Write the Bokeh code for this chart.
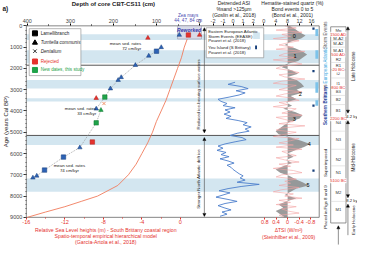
import math
from bokeh.plotting import figure
from bokeh.models import Range1d, LinearAxis, FixedTicker, Label, Arrow, NormalHead
from bokeh.embed import file_html
from bokeh.resources import INLINE

# ------------------------------------------------------------------ data
age_ticks = [0, 1000, 2000, 3000, 4000, 5000, 6000, 7000, 8000, 9000]
age_minor = list(range(0, 9001, 200))
depth_ticks = [400, 300, 200, 100, 0]
depth_minor = [350, 250, 150, 50]
asi_ticks = [-2, -1, 0, 1, 2]
hem_ticks = [0, 4, 8, 12, 16]
sl_ticks = [-16, -12, -8, -4, 0]
sl_minor = [-14, -10, -6, -2]
tsi_ticks = [0.8, 0.4, 0, -0.4, -0.8]
tsi_tick_labels = ["0.8", "0.4", "0", "-0.4", "-0.8"]

storm_band_start = [400, 1150, 2550, 3400, 5150, 7180]
storm_band_end = [660, 1760, 2950, 3550, 5600, 7800]
divider_ages = [1850, 5150]

# dated samples of core CBT-CS11 (depth cm, age cal BP)
turritella_depth = [89, 118, 149, 182, 189, 207, 240, 278, 378, 387]
turritella_age = [1010, 1410, 1850, 2420, 2550, 2950, 3900, 5720, 7050, 7140]
lamelli_depth = [100, 316, 360]
lamelli_age = [1190, 6170, 6780]
new_sq_depth = [220, 240]
new_sq_age = [3350, 4560]
new_tri_depth = [229]
new_tri_age = [3960]
rejected_tri_depth = [120, 240]
rejected_tri_age = [570, 3400]
rejected_sq_depth = [249]
rejected_sq_age = [5460]
dentalium_depth = [222]
dentalium_age = [3650]
reworked_tri_depth = [47]
reworked_tri_age = [430]
reworked_rsq_depth = [26]
reworked_rsq_age = [430]
reworked_rtri_depth = [0]
reworked_rtri_age = [430]

# relative sea level (m)
sl_age = [9000, 8750, 8500, 8250, 8000, 7500, 7000, 6500, 6000, 5500, 5000, 4500,
          4000, 3500, 3000, 2500, 2000, 1500, 1000, 500, 200]
sl_val = [-15.9, -14.0, -12.0, -10.3, -8.6, -6.5, -5.4, -4.6, -4.0, -3.4, -2.9, -2.5,
          -2.0, -1.5, -1.1, -0.7, -0.3, 0.1, 0.4, 0.8, 1.2]

# detrended ASI
asi_age = [2650, 2750, 2850, 2950, 3050, 3150, 3250, 3350, 3450, 3550,
           3650, 3750, 3850, 3950, 4050, 4150, 4250, 4350, 4450, 4550,
           4650, 4750, 4850, 4950, 5050, 5150, 5250, 5350, 5450, 5550,
           5650, 5750, 5850, 5950, 6050, 6150, 6250, 6350, 6450, 6550,
           6650, 6750, 6850, 6950, 7050, 7150, 7250, 7350, 7450, 7550,
           7650, 7750, 7850, 7950, 8050, 8150, 8250, 8350, 8450, 8550,
           8650, 8750, 8850, 8950]
asi_val = [0.2, -0.5, 0.8, 1.5, 0.3, 1.2, 0.6, -0.4, -1.5, -1.2,
           -0.6, -1.0, 0.2, -0.8, -0.3, -0.9, -0.2, -0.7, 0.5, 1.4,
           1.0, 1.8, 1.2, 1.6, 0.4, -0.3, 0.9, 1.3, 0.2, -0.8,
           -1.5, -1.0, -1.6, -0.7, -1.2, -0.4, -1.3, -0.5, 0.1, -0.6,
           -0.2, 0.0, 0.3, 0.6, 1.0, 0.7, 1.2, 0.4, 2.6, 0.8,
           -0.5, -1.4, -0.3, -1.0, -1.7, -0.6, 0.4, -0.8, -1.5, -0.9,
           -0.2, -1.1, -0.6, -1.3]

# hematite-stained quartz (%)
hem_age = [0, 150, 300, 450, 600, 750, 900, 1050, 1200, 1350,
           1500, 1650, 1800, 1950, 2100, 2250, 2400, 2550, 2700, 2850,
           3000, 3150, 3300, 3450, 3600, 3750, 3900, 4050, 4200, 4350,
           4500, 4650, 4800, 4950, 5100, 5250, 5400, 5550, 5700, 5850,
           6000, 6150, 6300, 6450, 6600, 6750, 6900, 7050, 7200, 7350,
           7500, 7650, 7800, 7950, 8100, 8250, 8400, 8550, 8700, 8850, 9000]
hem_pct = [8.5, 10.5, 12.0, 14.0, 12.5, 9.0, 7.0, 10.5, 13.0, 14.5,
           13.0, 11.5, 7.5, 6.0, 9.5, 11.5, 8.0, 11.0, 12.5, 13.5,
           11.0, 13.0, 9.0, 11.0, 7.5, 9.5, 6.5, 10.5, 13.0, 12.0,
           9.0, 7.0, 5.5, 4.0, 5.0, 9.0, 12.5, 15.5, 13.5, 10.5,
           8.0, 10.0, 7.5, 9.5, 6.5, 4.0, 5.5, 8.5, 10.5, 13.0,
           15.0, 11.0, 9.0, 7.0, 11.0, 7.5, 5.0, 6.5, 4.0, 5.5, 7.0]
hem_mean = 8.0

# delta TSI (W/m2)
tsi_age = [0, 100, 200, 300, 400, 500, 600, 700, 800, 900,
           1000, 1100, 1200, 1300, 1400, 1500, 1600, 1700, 1800, 1900,
           2000, 2100, 2200, 2300, 2400, 2500, 2600, 2700, 2800, 2900,
           3000, 3100, 3200, 3300, 3400, 3500, 3600, 3700, 3800, 3900,
           4000, 4100, 4200, 4300, 4400, 4500, 4600, 4700, 4800, 4900,
           5000, 5100, 5200, 5300, 5400, 5500, 5600, 5700, 5800, 5900,
           6000, 6100, 6200, 6300, 6400, 6500, 6600, 6700, 6800, 6900,
           7000, 7100, 7200, 7300, 7400, 7500, 7600, 7700, 7800, 7900,
           8000, 8100, 8200, 8300, 8400, 8500, 8600, 8700, 8800, 8900, 9000]
tsi_val = [0.1, -0.3, 0.4, -0.5, 0.2, -0.1, 0.5, -0.4, 0.0, 0.3,
           -0.2, 0.4, -0.6, 0.1, 0.3, -0.3, 0.5, -0.2, -0.5, 0.2,
           0.4, -0.1, -0.4, 0.3, 0.1, -0.6, 0.2, 0.5, -0.3, 0.0,
           0.3, -0.5, 0.1, 0.4, -0.2, -0.4, 0.3, 0.0, 0.5, -0.3,
           -0.1, 0.2, -0.5, 0.4, 0.1, -0.2, 0.3, -0.6, 0.2, 0.4,
           -0.3, 0.1, 0.5, -0.4, -0.1, 0.3, -0.2, 0.4, -0.5, 0.2,
           0.0, -0.3, 0.4, 0.1, -0.4, 0.3, -0.1, 0.5, -0.2, -0.5,
           0.2, 0.4, -0.3, 0.1, -0.1, 0.3, -0.4, 0.2, 0.5, -0.2,
           0.1, -0.5, 0.3, -0.1, 0.4, -0.3, 0.2, 0.0, -0.4, 0.3, 0.1]

bond_ids = ["0", "1", "2", "3", "4", "5"]
bond_age = [490, 1410, 3180, 4370, 5530, 7470]
bond_hem = [10.2, 10.5, 12.2, 10.2, 15.2, 14.8]

eease_start = [150, 1150, 2650, 3500]
eease_end = [480, 1550, 3150, 3750]
yeu_age = [130, 2130, 3750, 6800]

zone_labels = ["Mp", "M-A2", "M-A2", "M-A1", "R2", "R1", "I2", "I1", "B3", "B2", "B1",
               "N4", "N3", "N2", "N1", "M2", "M1"]
zone_ages = [220, 575, 840, 1150, 1590, 1850, 2250, 2690, 3090, 3440, 3970,
             4540, 5340, 6260, 6880, 7850, 8650]
zone_bounds = [700, 1000, 1720, 2450, 3270, 3700, 4950, 5800, 6580, 8250]
date_labels = ["1500 AD", "500 AD", "20 BC", "800 BC", "2200 BC", "5100 BC"]
date_ages = [400, 1370, 2070, 2910, 4370, 7280]

# ------------------------------------------------------------------ layout helpers
W, H = 357, 245
SX, SY = 357 / 373.0, 245 / 261.0
FONT = "Liberation Sans"
RED = "#e5322d"
BLUE = "#2d62b5"
DBLUE = "#173f7a"
GREEN = "#1fa34a"
BAND = "#d3e6f0"
FRAME = "#666666"


def cx(px):
    return px * SX


def cy(py):
    return py * SY


def rng(v1, p1, v2, p2):
    c1, c2 = cx(p1), cx(p2)
    k = (v2 - v1) / (c2 - c1)
    return Range1d(start=v1 + (0 - c1) * k, end=v1 + (W - c1) * k)


A0, A9 = cy(27), cy(231)
KY = 9000.0 / (A9 - A0)

p = figure(width=W, height=H, output_backend="svg", toolbar_location=None,
           x_range=Range1d(0, W),
           y_range=Range1d(start=9000 + (H - A9) * KY, end=-A0 * KY),
           x_axis_location=None, y_axis_location=None,
           min_border=0, min_border_left=0, min_border_right=0,
           min_border_top=0, min_border_bottom=0)
p.outline_line_color = None
p.grid.visible = False
p.extra_y_ranges = {"py": Range1d(H, 0)}
p.extra_x_ranges = {
    "sl": rng(-16, 27, 0, 188),
    "depth": rng(400, 28, 0, 208),
    "asi": rng(-2, 222, 2, 264),
    "hem": rng(0, 275, 16, 325),
    "tsi": rng(0.8, 276, -0.8, 324),
}


def to_c(v, name):
    r = p.extra_x_ranges[name]
    return round((v - r.start) / (r.end - r.start) * W, 1)


AX = dict(axis_line_color=None, major_tick_in=0, minor_tick_in=0,
          major_label_text_font=FONT, major_label_standoff=1)

# left axis (age)
ya = LinearAxis(fixed_location=cx(27),
                ticker=FixedTicker(ticks=age_ticks, minor_ticks=age_minor),
                major_tick_out=3, minor_tick_out=1, major_label_text_font_size="5.5px",
                major_tick_line_color="#333333", minor_tick_line_color="#555555", **AX)
p.add_layout(ya, "left")

# top axis (depth, ASI, hematite)
top_ticks, top_over = [], {}
for v in depth_ticks:
    t = to_c(v, "depth"); top_ticks.append(t); top_over[t] = str(v)
for v in asi_ticks:
    t = to_c(v, "asi"); top_ticks.append(t); top_over[t] = str(v)
for v in hem_ticks:
    t = to_c(v, "hem"); top_ticks.append(t); top_over[t] = str(v)
top_minor = [to_c(v, "depth") for v in depth_minor]
ax_top = LinearAxis(fixed_location=0,
                    ticker=FixedTicker(ticks=top_ticks, minor_ticks=top_minor),
                    major_label_overrides=top_over, major_tick_out=2, minor_tick_out=1,
                    major_label_text_font_size="5.5px", **AX)
p.add_layout(ax_top, "above")

# bottom axis (sea level, TSI)
bot_ticks, bot_over = [], {}
for v in sl_ticks:
    t = to_c(v, "sl"); bot_ticks.append(t); bot_over[t] = str(v)
for v, s in zip(tsi_ticks, tsi_tick_labels):
    t = to_c(v, "tsi"); bot_ticks.append(t); bot_over[t] = s
bot_minor = [to_c(v, "sl") for v in sl_minor]
ax_bot = LinearAxis(fixed_location=9000,
                    ticker=FixedTicker(ticks=bot_ticks, minor_ticks=bot_minor),
                    major_label_overrides=bot_over, major_tick_out=2, minor_tick_out=1,
                    major_tick_line_color=RED, minor_tick_line_color=RED,
                    major_label_text_color=RED, major_label_text_font_size="5.5px", **AX)
p.add_layout(ax_bot, "below")

# ------------------------------------------------------------------ background
p.quad(left=cx(27), right=cx(333), top=storm_band_start, bottom=storm_band_end,
       fill_color=BAND, line_color=None)
p.segment(x0=cx(27), x1=cx(333), y0=divider_ages, y1=divider_ages,
          line_color="#555555", line_width=1)
# hematite grey fill and TSI line
p.harea(y=hem_age, x1=hem_mean, x2=hem_pct, x_range_name="hem",
        fill_color="#8a8a8a", fill_alpha=0.85)
p.line(x=tsi_val, y=tsi_age, x_range_name="tsi", line_color="#f3a3a3", line_width=0.6)
# outer frames
p.quad(left=cx(27), right=cx(333), top=0, bottom=9000, fill_color=None,
       line_color=FRAME, line_width=0.8)

# storm events marks
p.quad(left=cx(329), right=cx(332), top=eease_start, bottom=eease_end,
       fill_color="#7cc3ea", line_color=None)
p.scatter(x=[cx(327)] * len(yeu_age), y=yeu_age, marker="square", size=2.2,
          fill_color=DBLUE, line_color=None)

# sea level curve
p.line(x=sl_val, y=sl_age, x_range_name="sl", line_color="#f07c5c", line_width=0.9)

# ASI curve
p.line(x=asi_val, y=asi_age, x_range_name="asi", line_color="#4d7fcc", line_width=0.9)

# age-depth dotted line
acc = sorted(zip(turritella_age + lamelli_age + new_sq_age + new_tri_age,
                 turritella_depth + lamelli_depth + new_sq_depth + new_tri_depth))
p.line(x=[d for a, d in acc], y=[a for a, d in acc], x_range_name="depth",
       line_color="#999999", line_dash="1 1", line_width=0.8)

# reworked box
p.quad(left=cx(185), right=cx(210), top=cy(27), bottom=cy(41), y_range_name="py",
       fill_color="#d9dbe8", line_color="#9a9ab0", line_width=0.6)

MS = 4.5
p.scatter(x=turritella_depth, y=turritella_age, x_range_name="depth", marker="triangle",
          size=MS, fill_color=BLUE, line_color=DBLUE, line_width=0.5)
p.scatter(x=lamelli_depth, y=lamelli_age, x_range_name="depth", marker="square",
          size=MS, fill_color=BLUE, line_color=DBLUE, line_width=0.5)
p.scatter(x=new_sq_depth, y=new_sq_age, x_range_name="depth", marker="square",
          size=MS, fill_color=GREEN, line_color="#127a33", line_width=0.5)
p.scatter(x=new_tri_depth, y=new_tri_age, x_range_name="depth", marker="triangle",
          size=MS, fill_color=GREEN, line_color="#127a33", line_width=0.5)
p.scatter(x=rejected_tri_depth, y=rejected_tri_age, x_range_name="depth", marker="triangle",
          size=MS, fill_color=RED, line_color="#b01e1a", line_width=0.5)
p.scatter(x=rejected_sq_depth, y=rejected_sq_age, x_range_name="depth", marker="square",
          size=MS, fill_color=RED, line_color="#b01e1a", line_width=0.5)
p.scatter(x=dentalium_depth, y=dentalium_age, x_range_name="depth", marker="x",
          size=MS, line_color="#f08a60", line_width=0.9)
p.scatter(x=reworked_tri_depth, y=reworked_tri_age, x_range_name="depth", marker="triangle",
          size=MS, fill_color=BLUE, line_color=DBLUE, line_width=0.5)
p.scatter(x=reworked_rsq_depth, y=reworked_rsq_age, x_range_name="depth", marker="square",
          size=MS, fill_color=RED, line_color="#b01e1a", line_width=0.5)
p.scatter(x=reworked_rtri_depth, y=reworked_rtri_age, x_range_name="depth", marker="triangle",
          size=MS, fill_color=RED, line_color="#b01e1a", line_width=0.5)


def lab(xp, yp, text, size=5.0, color="#222222", align="left", baseline="middle",
        angle=0.0, style="normal"):
    p.add_layout(Label(x=cx(xp), y=cy(yp), y_range_name="py", text=text,
                       text_font=FONT, text_font_size="%.1fpx" % size, text_color=color,
                       text_align=align, text_baseline=baseline, angle=angle,
                       text_font_style=style))


# legend (left panel)
p.quad(left=cx(30), right=cx(84), top=cy(30), bottom=cy(80), y_range_name="py",
       fill_color="white", line_color="#888888", line_width=0.6)
leg_y = [35, 45, 54, 65, 74]
p.scatter(x=[cx(36)], y=[cy(leg_y[0])], y_range_name="py", marker="square", size=5,
          fill_color="black", line_color="black")
p.scatter(x=[cx(36)], y=[cy(leg_y[1])], y_range_name="py", marker="triangle", size=5,
          fill_color="black", line_color="black")
p.scatter(x=[cx(36)], y=[cy(leg_y[2])], y_range_name="py", marker="x", size=5,
          line_color="black", line_width=0.8)
p.scatter(x=[cx(36)], y=[cy(leg_y[3])], y_range_name="py", marker="square", size=5,
          fill_color=RED, line_color=RED)
p.scatter(x=[cx(36)], y=[cy(leg_y[4])], y_range_name="py", marker="square", size=5,
          fill_color=GREEN, line_color=GREEN)
lab(42, leg_y[0], "Lamellibranch", 4.6)
lab(42, leg_y[1], "Turritella communis", 4.6, style="italic")
lab(42, leg_y[2], "Dentalium", 4.6, style="italic")
lab(42, leg_y[3], "Rejected", 4.6, color=RED)
lab(42, leg_y[4], "New dates, this study", 4.6, color=GREEN)

# titles
lab(2, 9, "a)", 6.5, style="bold")
lab(6, 129, "Age (years Cal BP)", 6.0, align="center", angle=math.pi / 2)
lab(118, 4, "Depth of core CBT-CS11 (cm)", 6.0, align="center", style="bold")
lab(196, 16, "Zea mays", 4.6, color="#4a4ab0", align="center")
lab(196, 21.5, "44, 47, 84 cm", 4.6, color="#4a4ab0", align="center")
lab(197, 31, "Reworked", 5.0, color="#3838a8", align="center", style="bold italic")
lab(244, 3, "Detrended ASI", 5.0, align="center")
lab(244, 9, "%sand >125\u00b5m", 5.0, align="center")
lab(244, 15, "(Goslin et al., 2018)", 5.0, align="center")
lab(305, 3, "Hematite-stained quartz (%)", 5.0, align="center")
lab(305, 9, "Bond events 0 to 5", 5.0, align="center")
lab(305, 15, "(Bond et al., 2001)", 5.0, align="center")
lab(110, 244, "Relative Sea Level heights (m) - South Brittany coastal region", 5.2,
    color=RED, align="center")
lab(110, 250.5, "Spatio-temporal empirical hierarchical model", 5.2, color=RED,
    align="center")
lab(110, 257, "(Garc\u00eda-Artola et al., 2018)", 5.2, color=RED, align="center")
lab(301, 245, "\u0394TSI (W/m\u00b2)", 5.0, color=RED, align="center")
lab(301, 251.5, "(Steinhilber et al., 2009)", 5.0, color=RED, align="center")

# sedimentation-rate annotations
lab(147, 46, "mean sed. rates", 4.4, align="right")
lab(147, 51, "72 cm/kyr", 4.4, align="right")
lab(100, 115, "mean sed. rates", 4.4, align="right")
lab(100, 120, "33 cm/kyr", 4.4, align="right")
lab(72, 176, "mean sed. rates", 4.4, align="center")
lab(72, 181, "74 cm/kyr", 4.4, align="center")

# ASI panel annotations
p.quad(left=cx(215), right=cx(275), top=cy(29), bottom=cy(61), y_range_name="py",
       fill_color="white", line_color="#888888", line_width=0.6)
lab(217, 33, "Eastern European Atlantic", 4.3)
lab(217, 38, "Storm Events (EEASE)", 4.3)
lab(217, 43, "Pouzet et al. (2018)", 4.3)
lab(217, 50, "Yeu Island (S Brittany)", 4.3)
lab(217, 55, "Pouzet et al. (2018)", 4.3)
p.quad(left=cx(264), right=cx(271), top=cy(34), bottom=cy(41), y_range_name="py",
       fill_color=BAND, line_color=None)
p.quad(left=cx(266), right=cx(268), top=cy(48), bottom=cy(52), y_range_name="py",
       fill_color=DBLUE, line_color=None)
lab(207, 100, "Reduced ice-bearing surface waters", 4.4, align="center", angle=math.pi / 2)
lab(207, 190, "Stronger North Atlantic drift ice", 4.4, align="center", angle=math.pi / 2)

head = dict(size=3, fill_color="black", line_color="black", line_width=0.5)
p.add_layout(Arrow(x_start=cx(213), y_start=cy(29), x_end=cx(213), y_end=cy(141),
                   y_range_name="py", start=NormalHead(**head), end=NormalHead(**head),
                   line_width=0.6, line_color="#444444"))
p.add_layout(Arrow(x_start=cx(213), y_start=cy(146), x_end=cx(213), y_end=cy(230),
                   y_range_name="py", start=NormalHead(**head), end=NormalHead(**head),
                   line_width=0.6, line_color="#444444"))

# bond numbers
for bid, ba, bh in zip(bond_ids, bond_age, bond_hem):
    p.add_layout(Label(x=bh, y=ba, x_range_name="hem", text=bid, text_font=FONT,
                       text_font_size="5.5px", text_color="black", text_align="center",
                       text_baseline="middle"))

# vertical column texts
lab(339.5, 37, "Storm Events", 4.6, color="#555555", align="center", angle=math.pi / 2)
lab(339.5, 69, "European Atlantic", 4.6, color="#3aa7de", align="center",
    angle=math.pi / 2)
lab(339.5, 92, "vs", 4.6, align="center", angle=math.pi / 2)
lab(339.5, 112, "Southern Brittany", 4.6, color="#1f3f99", align="center",
    angle=math.pi / 2, style="bold")
lab(339.5, 173, "Superimposed", 4.4, align="center", angle=math.pi / 2)
lab(339.5, 220, "Placed in Figs 8 and 9", 4.4, align="center", angle=math.pi / 2)

# chronozone column
p.quad(left=cx(345), right=cx(361), top=cy(28), bottom=cy(237), y_range_name="py",
       fill_color="white", line_color=FRAME, line_width=0.7)
p.segment(x0=cx(345), x1=cx(361), y0=zone_bounds, y1=zone_bounds, line_color="#cccccc",
          line_width=0.5)
p.segment(x0=cx(345), x1=cx(361), y0=date_ages, y1=date_ages, line_color="#999999",
          line_width=0.5)
for zl, za in zip(zone_labels, zone_ages):
    p.add_layout(Label(x=cx(353), y=za, text=zl, text_font=FONT, text_font_size="4.2px",
                       text_color="#333333", text_align="center", text_baseline="middle"))
for dl, da in zip(date_labels, date_ages):
    p.add_layout(Label(x=cx(353), y=da, text=dl, text_font=FONT, text_font_size="4.2px",
                       text_color=RED, text_align="center", text_baseline="middle",
                       background_fill_color="white"))

# holocene subdivisions
p.add_layout(Arrow(x_start=cx(363), y_start=cy(28), x_end=cx(363), y_end=cy(120),
                   y_range_name="py", start=NormalHead(**head), end=NormalHead(**head),
                   line_width=0.6, line_color="#444444"))
p.add_layout(Arrow(x_start=cx(363), y_start=cy(128), x_end=cx(363), y_end=cy(210),
                   y_range_name="py", start=NormalHead(**head), end=NormalHead(**head),
                   line_width=0.6, line_color="#444444"))
p.add_layout(Arrow(x_start=cx(363), y_start=cy(250), x_end=cx(363), y_end=cy(217),
                   y_range_name="py", end=NormalHead(**head),
                   line_width=0.6, line_color="#444444"))
p.add_layout(Arrow(x_start=cx(353), y_start=cy(260), x_end=cx(353), y_end=cy(240),
                   y_range_name="py", end=NormalHead(**head),
                   line_width=0.6, line_color="#444444"))
lab(368.5, 70, "Late Holocene", 4.6, align="center", angle=math.pi / 2)
lab(368.5, 167, "Mid-Holocene", 4.6, align="center", angle=math.pi / 2)
lab(368.5, 234, "Early Holocene", 4.4, align="center", angle=math.pi / 2)
lab(373, 124, "4.2 ky", 4.2, align="right")
lab(373, 213.5, "8.2 ky", 4.2, align="right")

open("out.html", "w").write(file_html(p, INLINE))
